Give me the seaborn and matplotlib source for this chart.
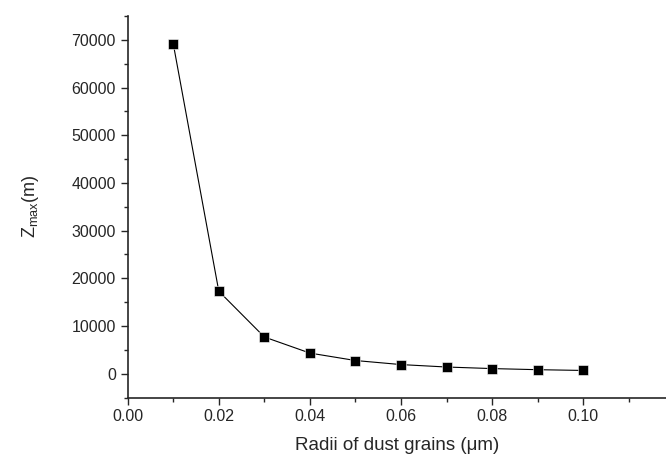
import matplotlib
matplotlib.use("Agg")
import matplotlib.pyplot as plt
import pandas as pd
import seaborn as sns
from matplotlib.ticker import MultipleLocator

# dust grain radii (um) and Zmax (m)
radii = [0.01, 0.02, 0.03, 0.04, 0.05, 0.06, 0.07, 0.08, 0.09, 0.10]
zmax = [69200, 17300, 7700, 4330, 2770, 1920, 1410, 1080, 850, 690]

df = pd.DataFrame({"radius": radii, "zmax": zmax})

sns.set_style("ticks")
plt.rcParams['font.family'] = ['Liberation Sans', 'DejaVu Sans']
plt.rcParams['mathtext.fontset'] = 'custom'
plt.rcParams['mathtext.rm'] = 'Liberation Sans'
plt.rcParams['mathtext.it'] = 'Liberation Sans'

fig = plt.figure(figsize=(6.66, 4.57), dpi=100)
ax = fig.add_axes([0.1917, 0.130, 0.81, 0.835])

sns.lineplot(data=df, x="radius", y="zmax", marker="s", color="black",
             markersize=6.5, linewidth=0.8, markeredgecolor="white",
             markeredgewidth=0.4, ax=ax)

ax.set_xlim(0, 0.1184)
ax.set_ylim(-5000, 75000)
ax.xaxis.set_major_locator(MultipleLocator(0.02))
ax.xaxis.set_minor_locator(MultipleLocator(0.01))
ax.yaxis.set_major_locator(MultipleLocator(10000))
ax.yaxis.set_minor_locator(MultipleLocator(5000))
ax.xaxis.set_major_formatter(matplotlib.ticker.FormatStrFormatter('%.2f'))
ax.tick_params(which='major', direction='out', length=5, width=1, labelsize=11.5)
ax.tick_params(which='minor', direction='out', length=3, width=1)

sns.despine(ax=ax)
for s in ("left", "bottom"):
    ax.spines[s].set_linewidth(1.2)

ax.set_xlabel("Radii of dust grains (\u03bcm)", fontsize=13.5, labelpad=9)
ax.set_ylabel(r"Z$_{\mathrm{max}}$(m)", fontsize=13, labelpad=22)

fig.savefig("out.png", dpi=100)
